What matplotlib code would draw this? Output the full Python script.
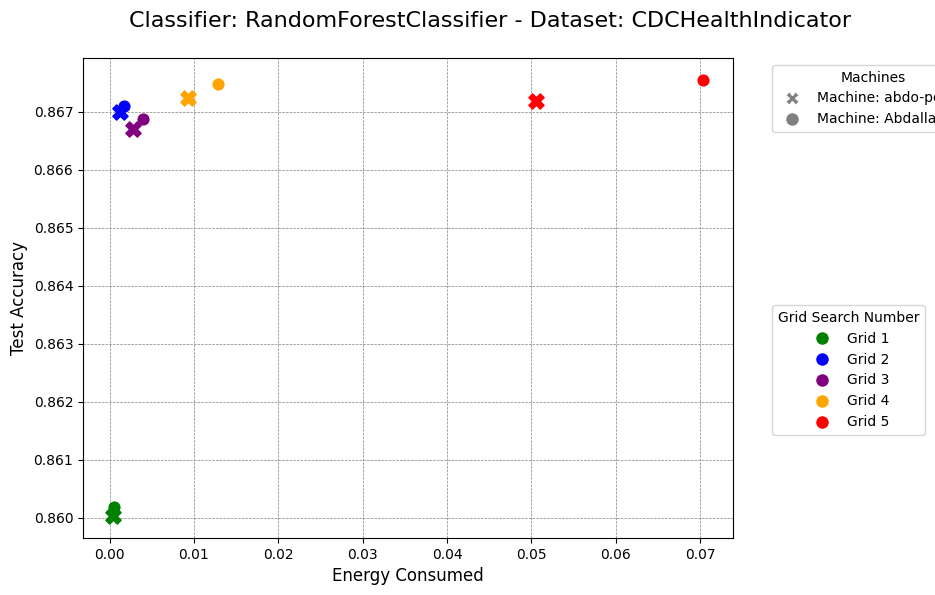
import matplotlib
matplotlib.use("Agg")
import matplotlib.pyplot as plt
from matplotlib.lines import Line2D

grids = ["Grid 1", "Grid 2", "Grid 3", "Grid 4", "Grid 5"]
colors = ["green", "blue", "purple", "orange", "red"]
machines = ["Machine: abdo-pc", "Machine: Abdallah-PC"]

# machine 1 (X markers)
energy_m1 = [0.00035, 0.0012, 0.0028, 0.0093, 0.0506]
acc_m1 = [0.86003, 0.86700, 0.86671, 0.86724, 0.86719]
# machine 2 (circles)
energy_m2 = [0.00047, 0.00165, 0.0040, 0.01285, 0.0704]
acc_m2 = [0.86019, 0.86710, 0.86688, 0.86747, 0.86755]

fig = plt.figure(figsize=(9.35, 5.95), dpi=100)
ax = fig.add_axes([83/935, 1-538/595, 650/935, 480/595])

for c, x, y in zip(colors, energy_m1, acc_m1):
    ax.scatter(x, y, marker="X", s=120, color=c, zorder=3)
for c, x, y in zip(colors, energy_m2, acc_m2):
    ax.scatter(x, y, marker="o", s=60, color=c, zorder=3)

ax.grid(True, linestyle="--", linewidth=0.5, color="gray")
ax.set_xlabel("Energy Consumed", fontsize=12)
ax.set_ylabel("Test Accuracy", fontsize=12)
fig.suptitle("Classifier: RandomForestClassifier - Dataset: CDCHealthIndicator",
             fontsize=16, x=0.5245, y=0.982)

mh = [Line2D([0], [0], marker="X", color="w", markerfacecolor="gray", markersize=10, label=machines[0]),
      Line2D([0], [0], marker="o", color="w", markerfacecolor="gray", markersize=10, label=machines[1])]
leg1 = ax.legend(handles=mh, title="Machines", loc="upper left", bbox_to_anchor=(1.05, 1.0))
ax.add_artist(leg1)
gh = [Line2D([0], [0], marker="o", color="w", markerfacecolor=c, markersize=10, label=g)
      for g, c in zip(grids, colors)]
ax.legend(handles=gh, title="Grid Search Number", loc="center left", bbox_to_anchor=(1.05, 0.35))

fig.savefig("out.png", dpi=100)
